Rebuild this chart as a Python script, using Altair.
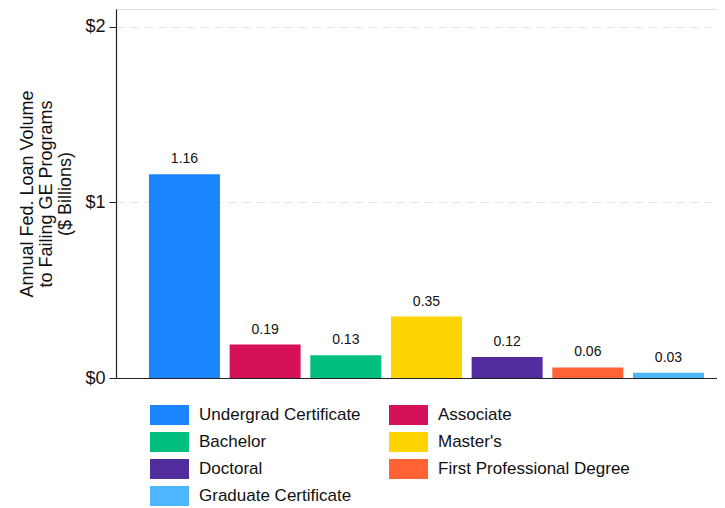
import altair as alt
import pandas as pd

categories = ["Undergrad Certificate", "Associate", "Bachelor", "Master's",
              "Doctoral", "First Professional Degree", "Graduate Certificate"]
values = [1.16, 0.19, 0.13, 0.35, 0.12, 0.06, 0.03]
labels = ["1.16", "0.19", "0.13", "0.35", "0.12", "0.06", "0.03"]
colors = ["#1A85FF", "#D41159", "#00BF7D", "#FFD400", "#512D9E", "#FF6333", "#4DB6FF"]
y_ticks = [0, 1, 2]

df = pd.DataFrame({"category": categories, "value": values, "label": labels})

FONT = "Liberation Sans"

x = alt.X(
    "category:N",
    sort=categories,
    axis=alt.Axis(labels=False, ticks=False, title=None, domainColor="#222", domainWidth=1.2),
    scale=alt.Scale(paddingInner=0.12, paddingOuter=0.285, align=0.717),
)

bars = alt.Chart(df).mark_bar().encode(
    x=x,
    y=alt.Y(
        "value:Q",
        scale=alt.Scale(domain=[0, 2.1], nice=False),
        axis=alt.Axis(
            values=y_ticks,
            labelExpr="'$' + datum.value",
            title=["Annual Fed. Loan Volume", "to Failing GE Programs", "($ Billions)"],
            titleFont=FONT, titleFontSize=18, titleFontWeight="normal", titleColor="#111",
            titleLineHeight=19, titlePadding=10,
            labelFont=FONT, labelFontSize=18, labelColor="#111", labelPadding=4,
            tickSize=7, tickColor="#222", domainColor="#222", domainWidth=1.2,
            grid=True, gridColor="#e3e3e3", gridDash=[8, 6], gridWidth=1.2,
        ),
    ),
    color=alt.Color(
        "category:N",
        sort=categories,
        scale=alt.Scale(domain=categories, range=colors),
        legend=alt.Legend(
            title=None, orient="none", legendX=43.5, legendY=396, columns=2,
            direction="horizontal",
            symbolType="M-1.95,-1L1.95,-1L1.95,1L-1.95,1Z", symbolSize=400,
            symbolStrokeWidth=0, labelFont=FONT, labelFontSize=17, labelColor="#111",
            labelOffset=19.5, columnPadding=27, rowPadding=7, labelLimit=400,
        ),
    ),
)

text = alt.Chart(df).mark_text(
    baseline="bottom", dy=-8, fontSize=14, font=FONT, color="#111"
).encode(
    x=alt.X("category:N", sort=categories),
    y="value:Q",
    text="label:N",
)

chart = (bars + text).properties(
    width=601, height=369,
    autosize=alt.AutoSizeParams(type="none"),
    padding={"left": 108, "top": 1, "right": 0, "bottom": 130},
).configure_view(stroke=None).configure(background="white")

chart.save("out.html", embed_options={"renderer": "svg", "actions": False})
